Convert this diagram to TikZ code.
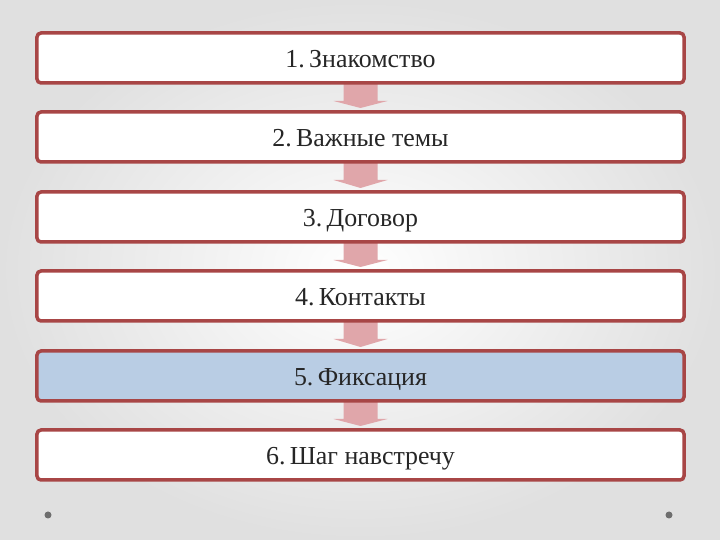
\documentclass[tikz,border=0pt]{standalone}
\usepackage{fontspec}
\setmainfont{Liberation Serif}
\usetikzlibrary{calc}
\definecolor{bord}{RGB}{168,70,70}
\definecolor{arr}{RGB}{224,166,170}
\definecolor{hil}{RGB}{185,205,228}
\definecolor{bgin}{RGB}{255,255,255}
\definecolor{bgout}{RGB}{224,224,224}
\definecolor{dotc}{RGB}{110,110,110}
\tikzset{
  stepbox/.style={draw=bord, line width=3.5bp, rounded corners=4bp, fill=white,
    minimum width=647bp, minimum height=50bp, inner sep=0pt,
    text height=24bp, text depth=4bp,
    font=\fontsize{26}{30}\selectfont, text=black!85},
  flowarrow/.style={fill=arr, draw=none},
  cornerdot/.style={circle, fill=dotc, minimum size=7bp, inner sep=0pt}
}
\begin{document}
\begin{tikzpicture}[x=1bp,y=1bp]
\shade[inner color=bgin, outer color=bgout] (0,0) rectangle (720,540);
\useasboundingbox (0,0) rectangle (720,540);
\foreach \i/\y in {1/482,2/403,3/323,4/244,5/164,6/85}{
  \coordinate (c\i) at (360.5,\y);
}
\foreach \i/\j in {1/2,2/3,3/4,4/5,5/6}{
  \fill[flowarrow] ($(c\i)+(-17,-26)$) -- ($(c\i)+(-17,-43)$) -- ($(c\i)+(-27,-43)$) -- ($(c\j)+(0,29)$) -- ($(c\i)+(27,-43)$) -- ($(c\i)+(17,-43)$) -- ($(c\i)+(17,-26)$) -- cycle;
}
\node[stepbox] (b1) at (c1) {1.\,Знакомство};
\node[stepbox] (b2) at (c2) {2.\,Важные темы};
\node[stepbox] (b3) at (c3) {3.\,Договор};
\node[stepbox] (b4) at (c4) {4.\,Контакты};
\node[stepbox, fill=hil] (b5) at (c5) {5.\,Фиксация};
\node[stepbox] (b6) at (c6) {6.\,Шаг навстречу};
\node[cornerdot] (d1) at (48,25) {};
\node[cornerdot] (d2) at (669,25) {};
\end{tikzpicture}
\end{document}
